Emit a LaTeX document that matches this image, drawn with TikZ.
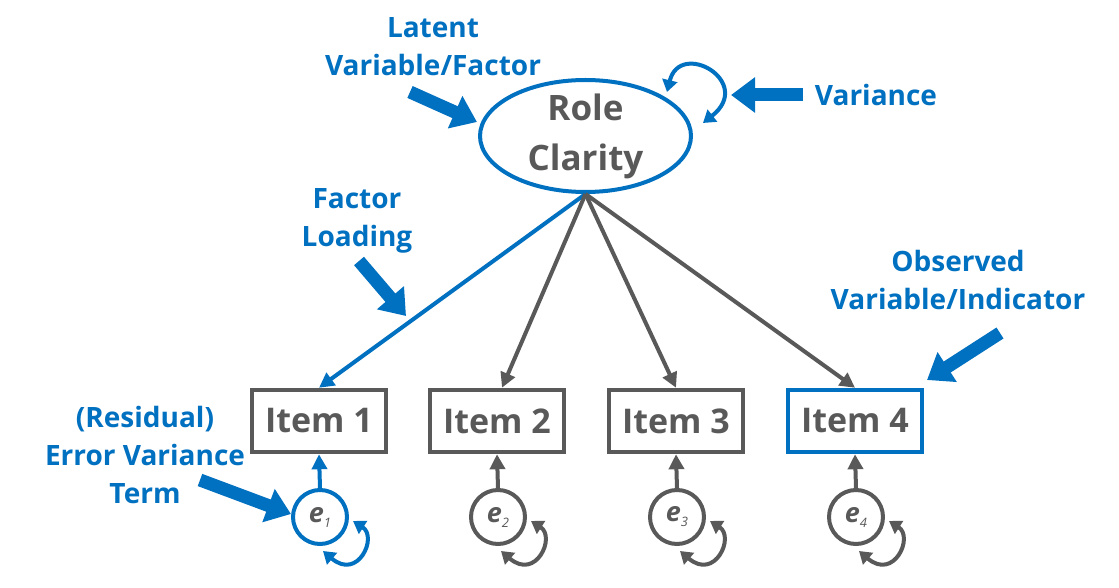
\documentclass[tikz,border=0pt]{standalone}
\usepackage{fontspec}
\setmainfont{Open Sans}
\usetikzlibrary{arrows.meta,shapes.geometric,calc}
\definecolor{cblue}{HTML}{0070C0}
\definecolor{cgray}{HTML}{595959}
\newcommand\elab[1]{{\fontsize{27}{27}\selectfont\bfseries\itshape e}\raisebox{-5pt}{\fontsize{13}{13}\selectfont\itshape #1}}
\newcommand\errloop[2]{\draw[loopline,#2] ($(#1)+(33,-4)$) .. controls ($(#1)+(58,-20)$) and ($(#1)+(38,-64)$) .. ($(#1)+(3,-34)$);}
\begin{document}
\begin{tikzpicture}[x=1pt,y=1pt,
  lab/.style={text=cblue,font=\fontsize{28}{38}\selectfont\bfseries,align=center,inner sep=0},
  itembox/.style={draw=cgray,line width=4.5pt,minimum width=134pt,minimum height=62pt,text=cgray,font=\fontsize{34}{40}\selectfont\bfseries,inner sep=0},
  ecirc/.style={circle,line width=4pt,minimum size=54pt,inner sep=0,text=cgray},
  loadline/.style={line width=4pt,-{Triangle[length=15pt,width=15pt]}},
  loopline/.style={line width=4pt,{Triangle[length=12pt,width=15pt]}-{Triangle[length=12pt,width=15pt]}},
  callout/.style={cblue,line width=13pt,-{Triangle[length=24pt,width=34pt]}}]
\useasboundingbox[fill=white] (0,0) rectangle (1119,587);
% latent
\node[ellipse,draw=cblue,line width=4pt,minimum width=211pt,minimum height=112pt,inner sep=0] (ell) at (585.5,451) {};
\node[text=cgray,font=\fontsize{35}{50}\selectfont\bfseries,align=center,inner sep=0] (elltext) at (ell.center) {Role\\Clarity};
% items
\node[itembox] (b1) at (319,166) {Item 1};
\node[itembox] (b2) at (497,166) {Item 2};
\node[itembox] (b3) at (676,166) {Item 3};
\node[itembox,draw=cblue] (b4) at (855,166) {Item 4};
% errors
\node[ecirc,draw=cblue] (e1) at (320,70) {\elab{1}};
\node[ecirc,draw=cgray] (e2) at (498,70) {\elab{2}};
\node[ecirc,draw=cgray] (e3) at (677,70) {\elab{3}};
\node[ecirc,draw=cgray] (e4) at (856,70) {\elab{4}};
% loadings
\draw[loadline,cblue] (ell.south) -- (b1.north);
\draw[loadline,cgray] (ell.south) -- ($(b2.north)+(5,0)$);
\draw[loadline,cgray] (ell.south) -- (b3.north);
\draw[loadline,cgray] (ell.south) -- (b4.north);
% error paths
\draw[loadline,cblue] (e1.north) -- (b1.south);
\draw[loadline,cgray] (e2.north) -- (b2.south);
\draw[loadline,cgray] (e3.north) -- (b3.south);
\draw[loadline,cgray] (e4.north) -- (b4.south);
\errloop{e1}{cblue}
\errloop{e2}{cgray}
\errloop{e3}{cgray}
\errloop{e4}{cgray}
% variance loop
\coordinate (vs1) at (667,495);
\coordinate (vs2) at (703,464);
\draw[loopline,cblue] (vs1) .. controls (680,548) and (755,505) .. (vs2);
% labels
\node[lab] (lLatent) at (433,540) {Latent\\Variable/Factor};
\node[lab] (lVar) at (876,492) {Variance};
\node[lab] (lLoad) at (357,366) {Factor\\Loading};
\node[lab] (lObs) at (958,307) {Observed\\Variable/Indicator};
\node[lab] (lRes) at (145,132) {(Residual)\\Error Variance\\Term};
% callout arrows
\coordinate (c1a) at (410,495); \coordinate (c1b) at (477,465);
\coordinate (c2a) at (803,492); \coordinate (c2b) at (731,492);
\coordinate (c3a) at (359,326); \coordinate (c3b) at (406,271);
\coordinate (c4a) at (1000,254); \coordinate (c4b) at (927,207);
\coordinate (c5a) at (200,107); \coordinate (c5b) at (291,73);
\draw[callout] (c1a) -- (c1b);
\draw[callout] (c2a) -- (c2b);
\draw[callout] (c3a) -- (c3b);
\draw[callout] (c4a) -- (c4b);
\draw[callout] (c5a) -- (c5b);
\end{tikzpicture}
\end{document}
